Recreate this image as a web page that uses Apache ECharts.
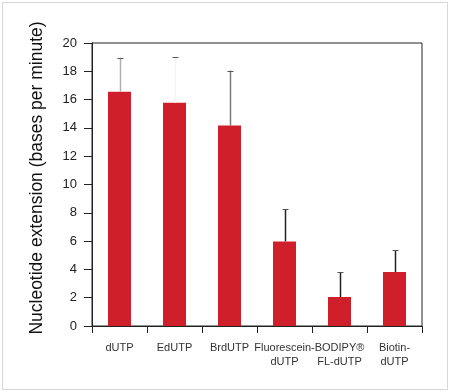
<!DOCTYPE html>
<html><head><meta charset="utf-8">
<script src="https://cdn.jsdelivr.net/npm/echarts@6/dist/echarts.min.js"></script>
<style>
html,body{margin:0;padding:0;background:#fff;}
#wrap{position:absolute;left:2px;top:2px;width:444px;height:386px;border:1px solid #d8d8d8;}
#c{position:absolute;left:0;top:0;width:450px;height:392px;}
</style></head>
<body>
<div id="wrap"></div>
<div id="c"></div>
<script>
var categories = ['dUTP', 'EdUTP', 'BrdUTP', 'Fluorescein-\ndUTP', 'BODIPY®\nFL-dUTP', 'Biotin-\ndUTP'];
var values = [16.55, 15.77, 14.17, 5.98, 2.05, 3.81];
var errorTops = [18.97, 19.0, 18.05, 8.24, 3.79, 5.34];
var errorColors = ['#b0b0b0', '#f4f4f4', '#7a7a7a', '#222222', '#222222', '#222222'];
var yTicks = [0, 2, 4, 6, 8, 10, 12, 14, 16, 18, 20];
var yTitle = 'Nucleotide extension (bases per minute)';

var chart = echarts.init(document.getElementById('c'), null, {renderer: 'canvas'});
var errData = categories.map(function (c, i) { return [i, values[i], errorTops[i]]; });

chart.setOption({
  animation: false,
  backgroundColor: 'transparent',
  grid: {left: 92, right: 28, top: 43, bottom: 66, show: true, borderColor: '#222', borderWidth: 1},
  graphic: [{
    type: 'text',
    x: 37, y: 178,
    rotation: Math.PI / 2,
    style: {text: yTitle, fontSize: 17.5, fill: '#111', fontFamily: 'Liberation Sans', align: 'center', verticalAlign: 'middle'}
  }],
  xAxis: {
    type: 'category',
    data: categories,
    axisLine: {lineStyle: {color: '#222', width: 1}},
    axisTick: {show: true, length: 7, alignWithLabel: false, lineStyle: {color: '#222'}},
    axisLabel: {margin: 15, fontSize: 11, color: '#333', fontFamily: 'Liberation Sans', lineHeight: 14, interval: 0}
  },
  yAxis: {
    type: 'value',
    min: yTicks[0], max: yTicks[yTicks.length - 1], interval: 2,
    splitLine: {show: false},
    axisLine: {show: true, lineStyle: {color: '#222', width: 1}},
    axisTick: {show: true, length: 8, lineStyle: {color: '#222'}},
    axisLabel: {margin: 15, fontSize: 13, color: '#222', fontFamily: 'Liberation Sans'}
  },
  series: [
    {
      type: 'bar',
      data: values,
      barWidth: 23,
      itemStyle: {color: '#cf1f2a'},
      z: 2
    },
    {
      type: 'custom',
      z: 3,
      data: errData,
      renderItem: function (params, api) {
        var i = api.value(0);
        var base = api.coord([i, api.value(1)]);
        var top = api.coord([i, api.value(2)]);
        var x = Math.round(base[0]) + 0.5;
        return {
          type: 'group',
          children: [
            {type: 'line', shape: {x1: x, y1: base[1], x2: x, y2: top[1]},
             style: {stroke: errorColors[i], lineWidth: 1.5}},
            {type: 'line', shape: {x1: x - 3, y1: Math.round(top[1]) + 0.5, x2: x + 3, y2: Math.round(top[1]) + 0.5},
             style: {stroke: '#555', lineWidth: 1}}
          ]
        };
      }
    }
  ]
});
</script>
</body></html>
